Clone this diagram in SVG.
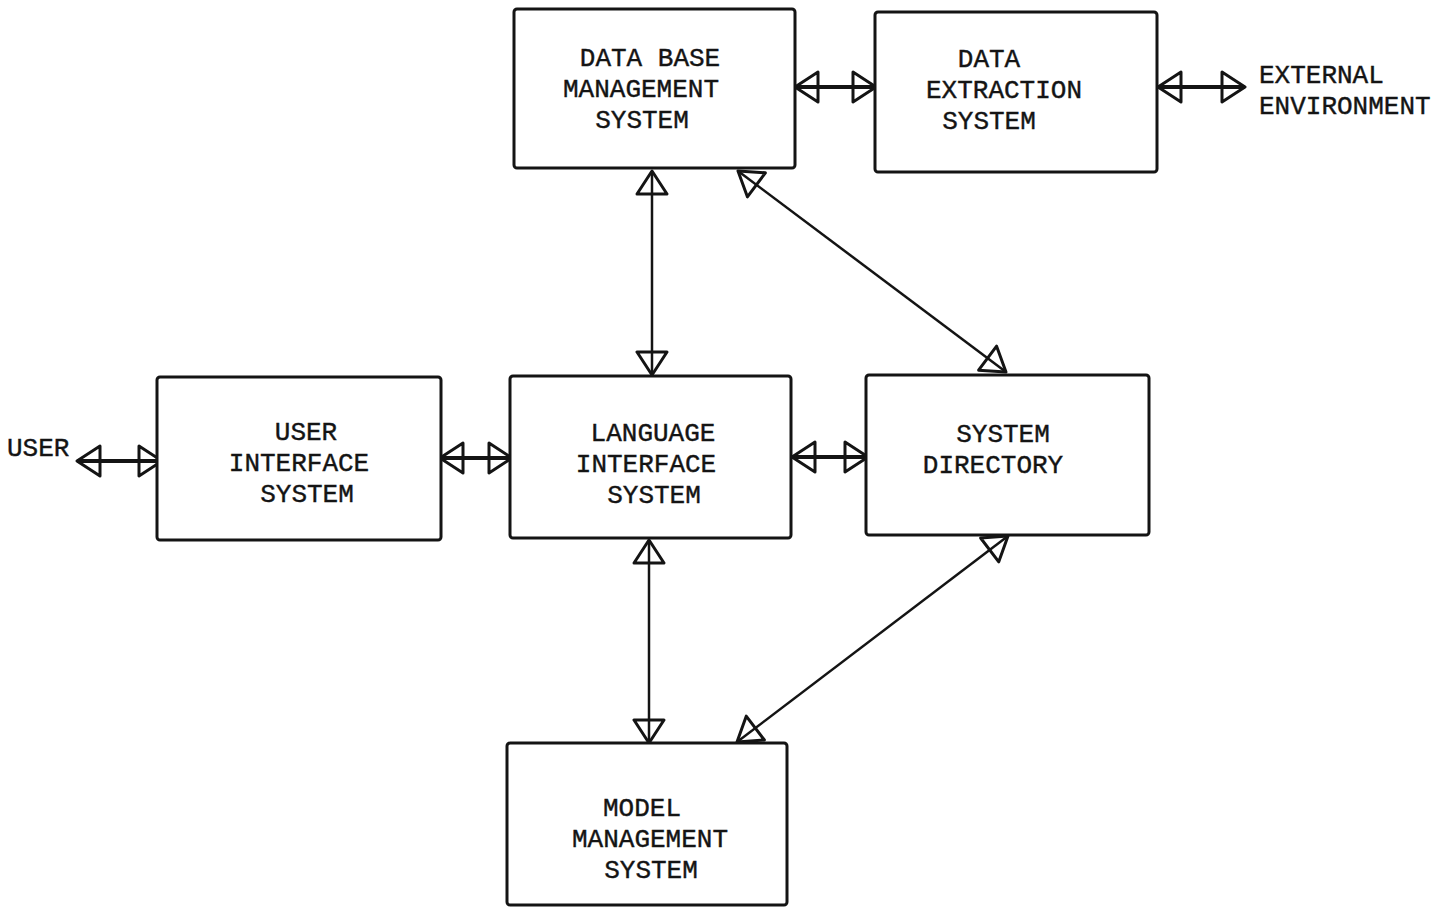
<svg xmlns="http://www.w3.org/2000/svg" width="1447" height="907" viewBox="0 0 1447 907">
  <style>
    .box { fill: #ffffff; stroke: #141414; stroke-width: 3; }
    .lbl { font-family: "Liberation Mono", "DejaVu Sans Mono", monospace; font-size: 26px; fill: #141414; text-anchor: middle; stroke: #141414; stroke-width: 0.4; }
    .free { text-anchor: start; }
    .bold { stroke: #141414; stroke-width: 4; fill: none; }
    .thin { stroke: #141414; stroke-width: 2.5; fill: none; }
  </style>
  <defs>
    <!-- open triangular arrowhead, tip at the path end -->
    <marker id="tri" markerUnits="userSpaceOnUse" viewBox="0 0 28 34" refX="25" refY="17" markerWidth="28" markerHeight="34" orient="auto-start-reverse">
      <path d="M2,2 L25,17 L2,32 Z" fill="none" stroke="#141414" stroke-width="3" stroke-linejoin="round"/>
    </marker>
  </defs>

  <rect width="1447" height="907" fill="#ffffff"/>

  <g id="connectors">
    <line class="bold" x1="795" y1="87" x2="876" y2="87" marker-start="url(#tri)" marker-end="url(#tri)"/>
    <line class="bold" x1="1158" y1="87" x2="1245" y2="87" marker-start="url(#tri)" marker-end="url(#tri)"/>
    <line class="bold" x1="77" y1="461" x2="162" y2="461" marker-start="url(#tri)" marker-end="url(#tri)"/>
    <line class="bold" x1="440" y1="458" x2="512" y2="458" marker-start="url(#tri)" marker-end="url(#tri)"/>
    <line class="bold" x1="792" y1="457" x2="868" y2="457" marker-start="url(#tri)" marker-end="url(#tri)"/>
    <line class="thin" x1="652" y1="171" x2="652" y2="375" marker-start="url(#tri)" marker-end="url(#tri)"/>
    <line class="thin" x1="738" y1="171" x2="1006" y2="372" marker-start="url(#tri)" marker-end="url(#tri)"/>
    <line class="thin" x1="649" y1="540" x2="649" y2="743" marker-start="url(#tri)" marker-end="url(#tri)"/>
    <line class="thin" x1="1008" y1="536" x2="737" y2="742" marker-start="url(#tri)" marker-end="url(#tri)"/>
  </g>

  <g id="dbms">
    <rect class="box" x="514" y="9" width="281" height="159" rx="3"/>
    <text class="lbl" x="650" y="66">DATA BASE</text>
    <text class="lbl" x="641" y="97">MANAGEMENT</text>
    <text class="lbl" x="642" y="128">SYSTEM</text>
  </g>

  <g id="des">
    <rect class="box" x="875" y="12" width="282" height="160" rx="3"/>
    <text class="lbl" x="989" y="67">DATA</text>
    <text class="lbl" x="1004" y="98">EXTRACTION</text>
    <text class="lbl" x="989" y="129">SYSTEM</text>
  </g>

  <g id="external">
    <text class="lbl free" x="1259" y="83">EXTERNAL</text>
    <text class="lbl free" x="1259" y="114">ENVIRONMENT</text>
  </g>

  <g id="user">
    <text class="lbl free" x="7" y="456">USER</text>
  </g>

  <g id="uis">
    <rect class="box" x="157" y="377" width="284" height="163" rx="3"/>
    <text class="lbl" x="306" y="440">USER</text>
    <text class="lbl" x="299" y="471">INTERFACE</text>
    <text class="lbl" x="307" y="502">SYSTEM</text>
  </g>

  <g id="lis">
    <rect class="box" x="510" y="376" width="281" height="162" rx="3"/>
    <text class="lbl" x="653" y="441">LANGUAGE</text>
    <text class="lbl" x="646" y="472">INTERFACE</text>
    <text class="lbl" x="654" y="503">SYSTEM</text>
  </g>

  <g id="sd">
    <rect class="box" x="866" y="375" width="283" height="160" rx="3"/>
    <text class="lbl" x="1003" y="442">SYSTEM</text>
    <text class="lbl" x="993" y="473">DIRECTORY</text>
  </g>

  <g id="mms">
    <rect class="box" x="507" y="743" width="280" height="162" rx="3"/>
    <text class="lbl" x="642" y="816">MODEL</text>
    <text class="lbl" x="650" y="847">MANAGEMENT</text>
    <text class="lbl" x="651" y="878">SYSTEM</text>
  </g>
</svg>
